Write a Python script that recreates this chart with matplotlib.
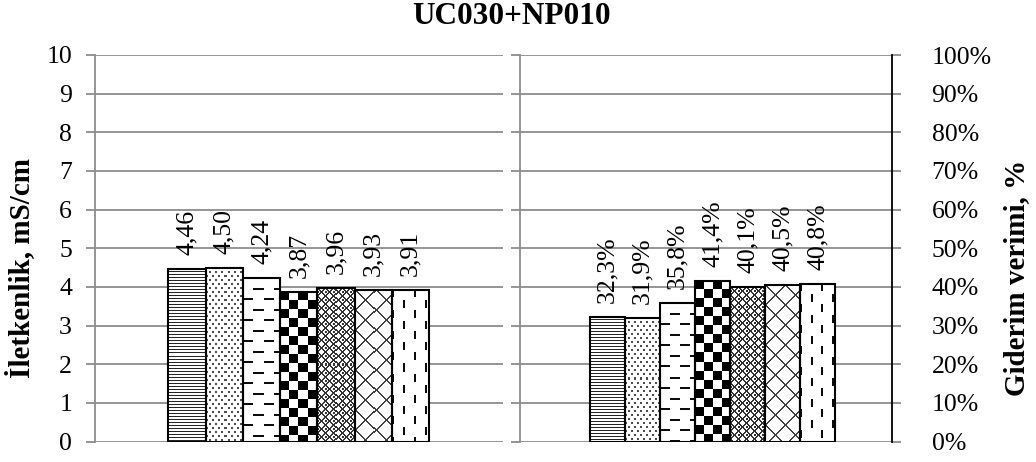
import numpy as np
import matplotlib
matplotlib.use('Agg')
import matplotlib.pyplot as plt

plt.rcParams['font.family'] = ['Liberation Serif', 'DejaVu Serif']

title = 'UC030+NP010'
conductivity = [4.46, 4.50, 4.24, 3.87, 3.96, 3.93, 3.91]
removal = [32.3, 31.9, 35.8, 41.4, 40.1, 40.5, 40.8]
patterns = ['hline', 'dots', 'hdash', 'checker', 'plaid', 'diamond', 'vdash']
left_ticks = list(range(0, 11))
right_ticks = list(range(0, 101, 10))

W, H = 1036, 462
GRID = '#8c8c8c'


def texture(name, h, w):
    # pixel pattern, 1 = ink
    r, c = np.mgrid[0:h, 0:w]
    if name == 'hline':
        ink = (r % 3 == 0) * 0.85
    elif name == 'dots':
        a = (r % 8 < 2) & (c % 6 < 2)
        b = ((r + 4) % 8 < 2) & ((c + 3) % 6 < 2)
        ink = (a | b) * 0.7
    elif name == 'hdash':
        a = (r % 21 < 2) & (c % 20 < 10)
        b = ((r + 10) % 21 < 2) & ((c + 10) % 20 < 10)
        ink = (a | b) * 0.95
    elif name == 'checker':
        ink = (((r // 9) + (c // 9)) % 2 == 0) * 1.0
    elif name == 'plaid':
        a = ((r + c) % 8 < 2) | ((r - c) % 8 < 2)
        b = ((r + 4) % 8 < 2) & ((c) % 8 < 2)
        ink = (a | b) * 0.8
    elif name == 'diamond':
        ink = (((r + c) % 20 < 2) | ((r - c) % 20 < 2)) * 0.75
    elif name == 'vdash':
        a = (c % 21 < 2) & (r % 21 < 8)
        b = ((c + 10) % 21 < 2) & ((r + 10) % 21 < 8)
        ink = (a | b) * 0.95
    else:
        ink = np.zeros((h, w))
    return 1 - ink


def fill_bars(ax, bars):
    for bar, name in zip(bars, patterns):
        x0, y0 = bar.get_x(), bar.get_y()
        x1, y1 = x0 + bar.get_width(), y0 + bar.get_height()
        p0 = ax.transData.transform((x0, y0))
        p1 = ax.transData.transform((x1, y1))
        wpx = max(int(round(p1[0] - p0[0])), 1)
        hpx = max(int(round(p1[1] - p0[1])), 1)
        img = texture(name, hpx, wpx)
        im = ax.imshow(img, cmap='gray', vmin=0, vmax=1, origin='upper',
                       extent=(x0, x1, y0, y1), aspect='auto',
                       interpolation='nearest', zorder=2)
        im.set_clip_path(bar)


fig = plt.figure(figsize=(W / 100, H / 100), dpi=100)
y0f = (H - 441.5) / H
hf = 386.5 / H
ax1 = fig.add_axes([95 / W, y0f, (503 - 95) / W, hf])
ax2 = fig.add_axes([520 / W, y0f, (892 - 520) / W, hf])

x = np.arange(len(conductivity)) - 3

# left panel
ax1.set_xlim(-5.465, 5.475)
ax1.set_ylim(0, 10)
ax1.set_yticks(left_ticks)
ax1.set_yticklabels([str(t) for t in left_ticks])
ax1.set_xticks([])
for s in ['top', 'right', 'bottom']:
    ax1.spines[s].set_visible(False)
ax1.spines['left'].set_color(GRID)
ax1.spines['left'].set_linewidth(1.3)
ax1.yaxis.grid(True, color=GRID, lw=1.3)
ax1.set_axisbelow(True)
ax1.tick_params(axis='y', length=6.5, width=1.3, color=GRID, pad=10, labelsize=18.5)

bars1 = ax1.bar(x, conductivity, width=1.0, facecolor='white', edgecolor='none', zorder=1)
fill_bars(ax1, bars1)
ax1.bar(x, conductivity, width=1.0, facecolor='none', edgecolor='black', lw=1.5, zorder=3)
for xi, v in zip(x, conductivity):
    ax1.annotate(f'{v:.2f}'.replace('.', ','), (xi, v), xytext=(0, 14),
                 textcoords='offset pixels', rotation=90, ha='center', va='bottom',
                 fontsize=18.5)
ax1.set_xlim(-5.465, 5.475)
ax1.set_ylim(0, 10)

# right panel
ax2.set_xlim(-5.5, 5.13)
ax2.set_ylim(0, 100)
ax2.set_yticks(right_ticks)
ax2.set_yticklabels([f'{t}%' for t in right_ticks])
ax2.set_xticks([])
ax2.yaxis.set_ticks_position('both')
ax2.tick_params(axis='y', length=6.5, width=1.3, color=GRID, pad=22, labelsize=18.5,
                labelleft=False, labelright=True)
for s in ['top', 'bottom']:
    ax2.spines[s].set_visible(False)
ax2.spines['left'].set_color(GRID)
ax2.spines['left'].set_linewidth(1.3)
ax2.spines['right'].set_color('black')
ax2.spines['right'].set_linewidth(1.3)
ax2.yaxis.grid(True, color=GRID, lw=1.3)
ax2.set_axisbelow(True)

bars2 = ax2.bar(x, removal, width=1.0, facecolor='white', edgecolor='none', zorder=1)
fill_bars(ax2, bars2)
ax2.bar(x, removal, width=1.0, facecolor='none', edgecolor='black', lw=1.5, zorder=3)
for xi, v in zip(x, removal):
    ax2.annotate(f'{v:.1f}%'.replace('.', ','), (xi, v), xytext=(0, 14),
                 textcoords='offset pixels', rotation=90, ha='center', va='bottom',
                 fontsize=18.5)
ax2.set_xlim(-5.5, 5.13)
ax2.set_ylim(0, 100)

fig.text(512 / W, 1 - 17 / H, title, ha='center', va='center', fontsize=22.5, fontweight='bold')
fig.text(20 / W, 1 - 268 / H, 'İletkenlik, mS/cm', rotation=90, ha='center', va='center',
         fontsize=21, fontweight='bold')
fig.text(1017 / W, 1 - 278 / H, 'Giderim verimi, %', rotation=90, ha='center', va='center',
         fontsize=21, fontweight='bold')

fig.savefig('out.png', dpi=100)
